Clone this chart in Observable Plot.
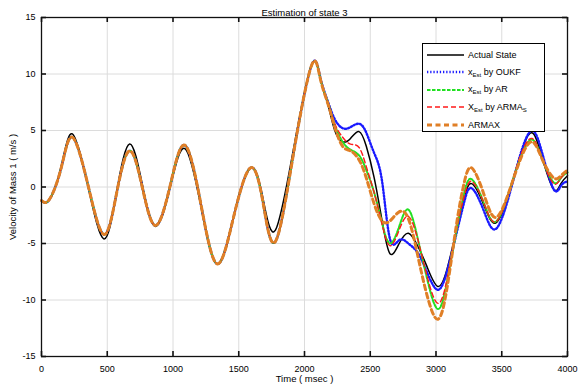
<!DOCTYPE html>
<html>
<head>
<meta charset="utf-8">
<script src="https://cdn.jsdelivr.net/npm/d3@7"></script>
<script src="https://cdn.jsdelivr.net/npm/@observablehq/plot@0.6"></script>
<style>
  html, body { margin: 0; padding: 0; background: #fff; }
  #wrap { position: relative; width: 579px; height: 390px; font-family: "Liberation Sans", Arial, sans-serif; }
  #legend { position: absolute; left: 422px; top: 43px; width: 123px; height: 89px; box-sizing: border-box;
            border: 1px solid #000; background: #fff; padding: 2px 0 0 4px; font-size: 9px; color: #000; }
  #legend .row { display: flex; align-items: center; height: 17.5px; }
  #legend svg { width: 38px; height: 8px; margin-right: 3px; flex: none; }
  #legend sub { font-size: 6px; vertical-align: -2px; }
</style>
</head>
<body>
<div id="wrap"></div>
<script>
// ---- data ----
const title = "Estimation of state 3";
const xLabel = "Time ( msec )";
const yLabel = "Velocity of Mass 1 ( m/s )";
const xTicks = [0, 500, 1000, 1500, 2000, 2500, 3000, 3500, 4000];
const yTicks = [-15, -10, -5, 0, 5, 10, 15];

const time = [0,60,150,235,355,475,572,670,768,867,978,1090,1212,1335,1462,1590,1685,1780,1920,2055,
  2120,2180,2230,2290,2350,2415,2470,2530,2590,2650,2720,2790,2860,2930,3015,3090,3160,3215,3270,3360,
  3450,3550,3640,3730,3810,3895,3950,4000];

const actualState = [-1.2,-1.15,1.8,4.7,0.05,-4.6,-0.4,3.8,0.15,-3.5,-0.05,3.4,-1.7,-6.8,-2.55,1.7,-1.05,-3.8,3.6,10.8,
  9.6,7.2,5.0,4.0,4.3,4.9,3.6,0.8,-3.0,-5.9,-5.0,-4.1,-5.2,-7.0,-8.8,-7.0,-3.6,-1.0,0.3,-1.5,
  -3.2,-0.8,2.8,4.8,2.5,-0.2,0.3,1.0];

const estOUKF = [-1.2,-1.1,1.7,4.4,0.1,-4.2,-0.5,3.2,-0.1,-3.4,0.1,3.7,-1.5,-6.8,-2.6,1.7,-1.4,-4.8,3.2,10.8,
  9.7,7.5,6.0,5.2,5.3,5.6,4.8,3.0,0.5,-4.6,-4.7,-5.0,-5.8,-7.5,-9.1,-7.2,-3.9,-1.3,-0.1,-2.0,
  -3.75,-1.0,2.8,5.0,2.9,-0.2,0.1,0.5];

const estAR = [-1.2,-1.1,1.7,4.4,0.1,-4.2,-0.5,3.2,-0.1,-3.4,0.1,3.7,-1.5,-6.8,-2.6,1.7,-1.4,-4.8,3.2,10.8,
  9.6,7.4,5.5,4.0,3.3,2.8,1.5,-0.5,-3.2,-5.0,-3.5,-2.0,-4.5,-8.0,-10.8,-8.0,-3.6,-0.5,0.7,-1.3,
  -3.1,-0.6,2.5,4.2,2.4,0.4,0.8,1.3];

const estARMA = [-1.2,-1.1,1.7,4.4,0.1,-4.2,-0.5,3.2,-0.1,-3.4,0.1,3.7,-1.5,-6.8,-2.6,1.7,-1.4,-4.8,3.2,10.8,
  9.6,7.4,5.6,4.4,3.8,3.5,1.8,-0.5,-3.3,-5.2,-3.8,-2.6,-4.6,-7.8,-10.3,-7.8,-3.5,-0.8,0.5,-1.3,
  -3.1,-0.6,2.7,4.3,2.4,0.3,0.8,1.3];

const estARMAX = [-1.2,-1.1,1.7,4.4,0.1,-4.2,-0.5,3.2,-0.1,-3.4,0.1,3.7,-1.5,-6.8,-2.6,1.7,-1.4,-4.8,3.2,10.8,
  9.6,7.3,5.3,3.6,3.2,2.4,0.8,-1.5,-3.0,-3.0,-2.2,-2.8,-6.0,-9.5,-11.7,-8.5,-3.0,0.4,1.7,-0.5,
  -2.7,-0.6,2.4,4.0,2.4,0.8,1.0,1.5];

// ---- series styles ----
const series = [
  {key: "actual", values: actualState, stroke: "#000000", width: 1.5, dash: null,      label: "Actual State"},
  {key: "oukf",   values: estOUKF,     stroke: "#1a1aff", width: 2.4, dash: "1.3 1.9", label: "x<sub>Est</sub> by OUKF"},
  {key: "ar",     values: estAR,       stroke: "#22e022", width: 2.0, dash: "3.5 1.5", label: "x<sub>Est</sub> by AR"},
  {key: "arma",   values: estARMA,     stroke: "#ff1a1a", width: 1.4, dash: "5 3",     label: "X<sub>Est</sub> by ARMA<sub>S</sub>"},
  {key: "armax",  values: estARMAX,    stroke: "#e07f26", width: 3.0, dash: "5 3.5",   label: "ARMAX"}
];

const rows = s => time.map((t, i) => ({t, v: s.values[i]}));
const font = {fontFamily: "Liberation Sans, Arial, sans-serif", fontSize: "9px", background: "#fff", color: "#000"};
const plain = d => String(d);

const W = 579, H = 390, mL = 41, mR = 12, mT = 17, mB = 34;
const fw = W - mL - mR, fh = H - mT - mB, tick = 5;

const chart = Plot.plot({
  width: W,
  height: H,
  marginLeft: mL,
  marginRight: mR,
  marginTop: mT,
  marginBottom: mB,
  style: font,
  x: {domain: [0, 4000]},
  y: {domain: [-15, 15]},
  marks: [
    Plot.gridX(xTicks, {stroke: "#dcdcdc", strokeOpacity: 1, strokeWidth: 1}),
    Plot.gridY(yTicks, {stroke: "#dcdcdc", strokeOpacity: 1, strokeWidth: 1}),
    ...series.map(s => Plot.line(rows(s), {
      x: "t", y: "v", stroke: s.stroke, strokeWidth: s.width,
      strokeDasharray: s.dash, curve: "natural"
    })),
    Plot.frame({stroke: "#111", strokeWidth: 1.3}),
    // inward tick marks on all four sides
    Plot.ruleX(xTicks, {x: d => d, insetTop: fh - tick, stroke: "#111", strokeWidth: 1.6}),
    Plot.ruleX(xTicks, {x: d => d, insetBottom: fh - tick, stroke: "#111", strokeWidth: 1.6}),
    Plot.ruleY(yTicks, {y: d => d, insetRight: fw - tick, stroke: "#111", strokeWidth: 1.6}),
    Plot.ruleY(yTicks, {y: d => d, insetLeft: fw - tick, stroke: "#111", strokeWidth: 1.6}),
    Plot.axisX(xTicks, {anchor: "bottom", tickSize: 0, tickPadding: 9, tickFormat: plain, label: null, fontSize: 9}),
    Plot.axisY(yTicks, {anchor: "left", tickSize: 0, tickPadding: 6, tickFormat: plain, label: null, fontSize: 9}),
    Plot.text([title], {frameAnchor: "top", dy: -8, fontSize: 9.5}),
    Plot.text([xLabel], {frameAnchor: "bottom", dy: 25, fontSize: 9.5}),
    Plot.text([yLabel], {frameAnchor: "left", dx: -29, rotate: -90, textAnchor: "middle", fontSize: 9.5})
  ]
});

const wrap = document.getElementById("wrap");
wrap.appendChild(chart);

// legend (HTML overlay)
const legend = document.createElement("div");
legend.id = "legend";
for (const s of series) {
  const row = document.createElement("div");
  row.className = "row";
  const ns = "http://www.w3.org/2000/svg";
  const sw = document.createElementNS(ns, "svg");
  sw.setAttribute("viewBox", "0 0 38 8");
  const ln = document.createElementNS(ns, "line");
  ln.setAttribute("x1", 0); ln.setAttribute("x2", 37);
  ln.setAttribute("y1", 4); ln.setAttribute("y2", 4);
  ln.setAttribute("stroke", s.stroke);
  ln.setAttribute("stroke-width", s.width);
  if (s.dash) ln.setAttribute("stroke-dasharray", s.dash);
  sw.appendChild(ln);
  const lab = document.createElement("span");
  lab.innerHTML = s.label;
  row.appendChild(sw);
  row.appendChild(lab);
  legend.appendChild(row);
}
wrap.appendChild(legend);
</script>
</body>
</html>
